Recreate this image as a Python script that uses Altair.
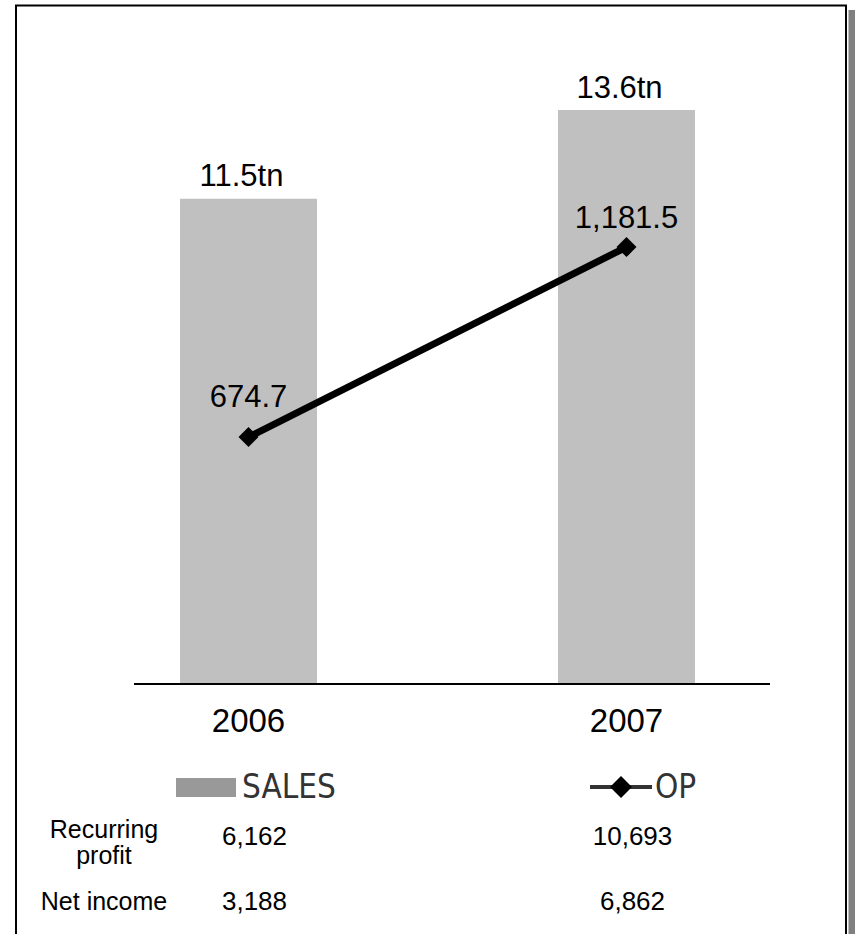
import altair as alt
import pandas as pd

# ---- data ----
years = [2006, 2007]
year_labels = ["2006", "2007"]
sales = [11.5, 13.6]                 # trillion
sales_labels = ["11.5tn", "13.6tn"]
op = [674.7, 1181.5]
op_labels = ["674.7", "1,181.5"]
row_names = ["Recurring profit", "Net income"]
recurring = [6162, 10693]
net_income = [3188, 6862]
legend_names = ["SALES", "OP"]

F = "Liberation Sans"

df = pd.DataFrame({
    "year": years, "year_label": year_labels, "sales": sales,
    "sales_label": sales_labels, "op": op, "op_label": op_labels,
})

rows = []
for i, y in enumerate(years):
    rows.append({"year": y, "row": row_names[0], "val": f"{recurring[i]:,}"})
    rows.append({"year": y, "row": row_names[1], "val": f"{net_income[i]:,}"})
table_df = pd.DataFrame(rows)
label_df = pd.DataFrame({"row": row_names,
                         "label": ["Recurring\nprofit", "Net income"]})
one = pd.DataFrame({"a": [0]})

# ---- scales ----
xs = alt.Scale(domain=[2006, 2007], range=[248.5, 626.5], nice=False, zero=False,
               padding=0)
X = alt.X("year:Q", scale=xs, axis=None)
ys = alt.Scale(domain=[0, 16], range=[684, 8.8], nice=False)
yo = alt.Scale(domain=[0, 1800], range=[690, 15.2], nice=False)

# ---- frame ----
shadow = alt.Chart(one).mark_rect(color="#808080").encode(
    x=alt.value(848.5), x2=alt.value(870), y=alt.value(10), y2=alt.value(960))
frame = alt.Chart(one).mark_rect(fill="white", stroke="black", strokeWidth=2).encode(
    x=alt.value(16), x2=alt.value(846), y=alt.value(5.5), y2=alt.value(960))

bars = alt.Chart(df).mark_bar(size=137, color="#c0c0c0").encode(
    x=X, y=alt.Y("sales:Q", scale=ys, axis=None))
sales_text = alt.Chart(df).mark_text(
    dx=-7, dy=-12.5, baseline="alphabetic", fontSize=31, font=F, color="black"
).encode(x=X, y=alt.Y("sales:Q", scale=ys, axis=None), text="sales_label:N")

axis_line = alt.Chart(one).mark_rule(color="black", strokeWidth=2).encode(
    x=alt.value(134), x2=alt.value(770), y=alt.value(684))

line = alt.Chart(df).mark_line(color="black", strokeWidth=7).encode(
    x=X, y=alt.Y("op:Q", scale=yo, axis=None))
pts = alt.Chart(df).mark_point(shape="diamond", filled=True, size=400,
                               color="black", opacity=1).encode(
    x=X, y=alt.Y("op:Q", scale=yo, axis=None))
op_text1 = alt.Chart(df).transform_filter(alt.datum.year == 2006).mark_text(
    dy=-30, baseline="alphabetic", fontSize=31, font=F, color="black"
).encode(x=X, y=alt.Y("op:Q", scale=yo, axis=None), text="op_label:N")
op_text2 = alt.Chart(df).transform_filter(alt.datum.year == 2007).mark_text(
    dy=-19, baseline="alphabetic", fontSize=31, font=F, color="black"
).encode(x=X, y=alt.Y("op:Q", scale=yo, axis=None), text="op_label:N")

year_text = alt.Chart(df).mark_text(
    baseline="alphabetic", fontSize=33, font=F, color="black"
).encode(x=X, y=alt.value(732), text="year_label:N")

# ---- legend ----
LF = "DejaVu Sans Condensed"
leg_swatch = alt.Chart(one).mark_rect(color="#999999").encode(
    x=alt.value(176), x2=alt.value(236), y=alt.value(778), y2=alt.value(797))
leg_sales = alt.Chart(pd.DataFrame({"t": [legend_names[0]]})).mark_text(
    align="left", baseline="alphabetic", fontSize=33, font=LF, fontWeight=200,
    color="#333333"
).encode(x=alt.value(242), y=alt.value(798), text="t:N")
leg_line = alt.Chart(one).mark_rule(color="#333333", strokeWidth=4).encode(
    x=alt.value(590), x2=alt.value(652), y=alt.value(787))
leg_pt = alt.Chart(one).mark_point(shape="diamond", filled=True, size=480,
                                   color="black", opacity=1).encode(
    x=alt.value(621), y=alt.value(787))
leg_op = alt.Chart(pd.DataFrame({"t": [legend_names[1]]})).mark_text(
    align="left", baseline="alphabetic", fontSize=33, font=LF, fontWeight=200,
    color="#333333"
).encode(x=alt.value(655), y=alt.value(798), text="t:N")

# ---- table ----
row_scale_v = alt.Scale(type="point", domain=row_names, range=[836.5, 901.5], padding=0)
row_scale_l = alt.Scale(type="point", domain=row_names, range=[830, 901.5], padding=0)
table_vals = alt.Chart(table_df).mark_text(
    dx=6, baseline="middle", fontSize=26, font=F, color="black"
).encode(x=X, y=alt.Y("row:N", scale=row_scale_v, axis=None), text="val:N")
table_labels = alt.Chart(label_df).mark_text(
    baseline="middle", fontSize=25, font=F, color="black", lineBreak="\n",
    lineHeight=26
).encode(x=alt.value(104), y=alt.Y("row:N", scale=row_scale_l, axis=None),
         text="label:N")

chart = alt.layer(
    shadow, frame, bars, axis_line, sales_text, line, pts, op_text1, op_text2,
    year_text, leg_swatch, leg_sales, leg_line, leg_pt, leg_op,
    table_vals, table_labels
).resolve_scale(y="independent").properties(
    width=855, height=934,
    autosize=alt.AutoSizeParams(type="none"),
    padding=0, background="white"
).configure_view(stroke=None)

chart.save("out.html", embed_options={"renderer": "svg", "actions": False})
